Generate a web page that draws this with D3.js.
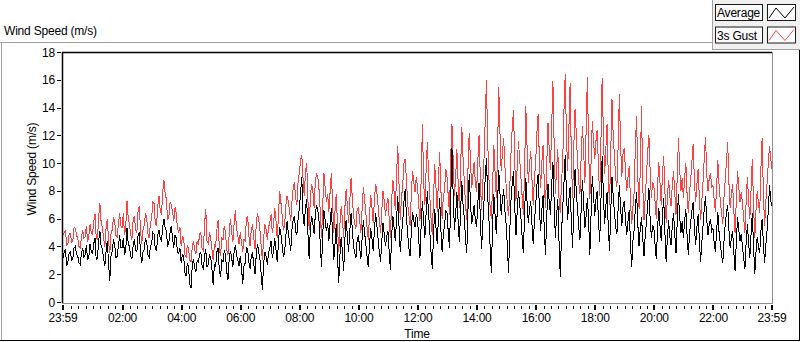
<!DOCTYPE html>
<html>
<head>
<meta charset="utf-8">
<script src="https://cdn.jsdelivr.net/npm/d3@7"></script>
<style>
  body { margin: 0; background: #fff; }
  svg text { font-family: "Liberation Sans", Arial, sans-serif; font-size: 12px; letter-spacing: -0.2px; fill: #000; }
</style>
</head>
<body>
<div id="chart"></div>
<script>
// wind speed samples, evenly spaced from 23:59 to 23:59 next day (m/s), 24 per hour
const average = [
  3.2, 3.6, 3.8, 2.6, 2.9, 3.5, 3.6, 3.0, 3.1, 3.9, 4.0, 3.4, 3.3, 2.8, 2.7, 3.5, 3.9, 3.2, 3.4, 4.1, 3.0, 3.3, 4.2, 3.6,
  3.5, 4.2, 4.6, 3.0, 3.2, 4.4, 5.1, 4.0, 3.8, 3.1, 2.6, 3.7, 4.4, 2.8, 1.5, 3.3, 3.7, 4.5, 4.1, 3.2, 3.3, 4.0, 4.8, 3.9,
  3.9, 4.6, 3.4, 3.8, 5.3, 4.2, 4.0, 3.3, 3.1, 4.1, 4.5, 3.7, 3.6, 4.8, 5.0, 3.5, 2.8, 3.6, 3.8, 4.6, 4.3, 3.4, 3.2, 4.0,
  4.2, 5.0, 4.9, 3.8, 3.7, 4.8, 5.2, 4.6, 4.4, 5.4, 6.0, 5.3, 5.1, 4.0, 4.3, 5.0, 5.5, 4.6, 3.9, 4.8, 4.6, 3.6, 3.5, 3.9,
  2.8, 3.4, 3.3, 2.1, 1.9, 2.8, 2.5, 1.3, 1.0, 2.6, 3.1, 2.4, 2.2, 3.0, 2.9, 3.5, 3.6, 2.6, 2.4, 3.3, 3.8, 2.5, 2.7, 3.4,
  3.2, 2.4, 1.2, 2.7, 2.6, 3.6, 3.9, 2.3, 1.8, 3.0, 2.9, 3.7, 3.4, 2.2, 1.6, 3.1, 3.7, 3.2, 2.5, 3.6, 4.1, 3.4, 3.0, 2.6,
  3.3, 2.5, 1.3, 2.6, 2.8, 3.9, 3.8, 2.9, 2.4, 3.3, 3.5, 2.7, 2.0, 3.4, 4.2, 3.6, 3.1, 2.0, 0.9, 2.8, 3.6, 3.3, 2.7, 3.5,
  3.9, 4.4, 3.2, 3.6, 4.6, 3.8, 2.9, 4.2, 5.4, 4.9, 4.1, 3.3, 3.5, 4.7, 5.8, 5.0, 4.4, 3.7, 5.2, 5.9, 6.2, 5.1, 4.8, 6.0,
  6.7, 7.9, 9.0, 6.3, 5.5, 6.8, 7.4, 4.9, 3.1, 5.4, 6.2, 5.6, 4.9, 6.3, 7.0, 6.6, 5.8, 4.2, 2.5, 4.8, 6.6, 5.9, 5.1, 5.7,
  4.4, 5.6, 6.8, 4.9, 3.0, 4.2, 5.6, 3.3, 1.4, 3.4, 4.7, 3.6, 2.2, 4.5, 5.9, 4.8, 3.6, 5.1, 6.4, 5.3, 4.1, 3.5, 3.2, 4.5,
  4.8, 3.9, 3.1, 4.6, 5.9, 5.0, 4.2, 3.3, 2.5, 4.1, 5.3, 4.6, 3.7, 5.2, 6.4, 5.5, 4.5, 3.6, 2.9, 4.4, 5.7, 4.9, 4.0, 4.7,
  5.1, 3.6, 2.3, 4.8, 6.2, 5.3, 4.4, 6.0, 7.6, 5.4, 3.6, 4.9, 5.8, 7.2, 8.1, 6.2, 4.9, 3.9, 3.3, 5.1, 6.5, 5.8, 5.4, 6.3,
  6.0, 4.5, 3.2, 5.6, 7.3, 5.8, 4.6, 6.4, 8.0, 6.3, 5.1, 3.6, 2.4, 4.8, 6.7, 5.4, 4.2, 6.0, 7.5, 5.2, 3.6, 4.9, 5.5, 6.6,
  6.4, 5.0, 3.9, 7.4, 11.1, 7.6, 5.2, 6.3, 7.9, 5.8, 4.3, 6.5, 8.7, 7.0, 6.1, 4.6, 3.5, 6.6, 9.2, 7.3, 5.6, 6.2, 7.0, 5.9,
  5.4, 7.1, 8.6, 6.2, 3.8, 5.5, 7.2, 8.9, 10.4, 7.7, 6.0, 4.0, 2.1, 5.5, 7.8, 6.3, 4.9, 7.0, 9.5, 7.8, 6.3, 7.4, 8.1, 6.6,
  5.6, 4.0, 2.1, 5.2, 7.4, 8.6, 9.4, 6.9, 4.8, 6.5, 8.0, 7.0, 6.1, 4.7, 3.5, 6.4, 8.9, 7.2, 5.7, 6.6, 7.3, 5.6, 4.2, 5.8,
  6.9, 8.4, 9.2, 6.8, 5.1, 6.6, 7.7, 5.2, 3.4, 6.1, 8.5, 7.2, 6.3, 8.4, 10.1, 7.3, 4.6, 6.2, 7.4, 4.3, 1.8, 5.0, 6.8, 8.6,
  10.6, 7.8, 5.9, 7.4, 8.3, 5.8, 3.9, 7.1, 9.6, 8.0, 6.7, 5.4, 4.5, 6.8, 8.8, 7.0, 5.3, 6.2, 7.5, 5.9, 3.4, 6.3, 9.1, 7.7,
  6.2, 7.4, 8.0, 5.9, 4.3, 7.2, 10.5, 7.8, 5.6, 6.9, 7.9, 5.3, 3.7, 6.5, 9.0, 7.6, 6.4, 5.4, 4.9, 6.7, 8.4, 6.8, 5.5, 6.9,
  7.3, 5.9, 4.8, 5.8, 6.6, 4.3, 2.5, 4.4, 5.2, 6.8, 7.9, 5.6, 4.0, 5.3, 6.1, 4.6, 3.3, 4.8, 5.7, 7.0, 8.2, 6.0, 4.6, 5.5,
  5.4, 4.1, 3.1, 5.2, 6.8, 5.5, 4.4, 6.2, 7.5, 5.0, 2.9, 4.6, 5.9, 4.7, 4.1, 5.5, 6.4, 4.9, 3.5, 5.8, 7.8, 6.1, 5.0, 5.8,
  4.6, 5.8, 6.7, 4.8, 3.4, 4.9, 5.8, 6.6, 7.2, 5.3, 4.1, 5.4, 6.3, 4.4, 2.9, 4.3, 5.5, 6.8, 7.6, 5.9, 4.8, 5.6, 6.0, 5.1,
  5.3, 4.3, 3.6, 5.1, 6.5, 5.0, 4.2, 3.4, 2.8, 4.4, 5.6, 6.4, 7.0, 5.2, 3.9, 4.6, 5.1, 3.6, 2.2, 4.3, 6.1, 5.2, 4.4, 4.9,
  4.0, 3.1, 2.4, 4.3, 5.6, 4.2, 3.2, 4.9, 6.4, 4.0, 2.0, 3.6, 4.7, 4.0, 3.5, 5.1, 6.0, 4.2, 2.8, 4.1, 5.2, 6.6, 8.4, 7.3,
  6.9
];
const gust = [
  4.8, 5.0, 5.1, 4.1, 4.2, 4.9, 4.9, 4.3, 4.4, 5.4, 5.3, 4.8, 4.6, 4.0, 3.9, 4.7, 5.2, 4.6, 4.7, 5.5, 4.3, 4.8, 5.6, 5.0,
  4.9, 5.8, 6.3, 4.6, 4.5, 6.2, 7.1, 5.7, 5.4, 4.6, 4.0, 5.3, 6.0, 4.4, 3.5, 4.9, 5.2, 6.1, 5.8, 4.8, 4.7, 5.6, 6.4, 5.5,
  5.3, 6.4, 4.8, 5.5, 7.3, 6.0, 5.6, 4.8, 4.5, 5.9, 6.2, 5.2, 5.0, 6.6, 6.9, 5.1, 4.2, 5.2, 5.5, 6.4, 6.1, 4.9, 4.6, 5.7,
  6.0, 7.2, 7.1, 5.6, 5.5, 6.9, 7.6, 6.6, 6.3, 7.9, 8.8, 7.8, 7.4, 5.9, 6.1, 7.2, 7.0, 6.5, 5.8, 6.8, 6.4, 5.3, 5.0, 5.4,
  4.0, 4.7, 4.6, 3.4, 3.2, 4.1, 3.8, 3.0, 2.9, 3.9, 4.4, 3.7, 3.5, 4.4, 4.1, 4.9, 5.0, 3.8, 3.7, 5.6, 6.7, 4.4, 4.2, 5.0,
  4.6, 3.8, 3.0, 4.1, 4.0, 5.2, 5.9, 3.9, 3.3, 4.6, 4.5, 5.5, 5.0, 3.8, 3.4, 4.9, 6.0, 5.1, 4.3, 5.6, 6.6, 5.3, 4.8, 4.2,
  5.0, 4.3, 3.6, 4.5, 4.4, 6.0, 6.2, 4.8, 4.0, 5.3, 5.5, 4.6, 3.8, 5.6, 6.4, 5.9, 5.2, 4.0, 3.0, 4.6, 5.6, 5.2, 4.5, 5.4,
  5.7, 6.3, 5.0, 5.5, 6.8, 5.9, 4.6, 6.1, 8.0, 7.2, 6.3, 5.2, 5.4, 6.9, 7.6, 7.3, 6.6, 5.8, 7.2, 8.2, 8.6, 7.5, 7.0, 8.7,
  9.3, 10.2, 10.6, 8.9, 7.6, 9.4, 10.0, 7.3, 5.2, 7.6, 8.5, 8.0, 6.8, 8.7, 9.2, 9.0, 8.1, 6.5, 4.6, 6.9, 9.3, 8.2, 7.2, 7.8,
  6.5, 7.9, 9.3, 7.2, 5.0, 6.6, 7.8, 5.5, 3.6, 5.6, 6.9, 6.0, 4.6, 6.8, 8.1, 7.0, 5.7, 7.3, 8.9, 7.6, 6.2, 5.6, 5.3, 6.7,
  6.8, 5.9, 5.0, 6.7, 8.3, 7.4, 6.4, 5.4, 4.5, 6.2, 7.7, 6.8, 5.7, 7.4, 8.5, 7.9, 6.9, 5.8, 5.0, 6.6, 8.0, 7.3, 6.2, 7.0,
  7.5, 6.0, 4.6, 7.3, 8.8, 7.9, 6.6, 9.2, 11.2, 8.4, 5.9, 7.5, 8.4, 10.0, 10.3, 8.8, 7.1, 6.3, 5.5, 7.8, 9.4, 8.6, 7.9, 9.0,
  8.3, 7.0, 5.8, 8.9, 12.8, 8.6, 7.0, 9.5, 11.5, 9.2, 7.6, 6.0, 4.8, 7.5, 9.9, 8.3, 6.5, 8.8, 10.8, 8.1, 6.0, 7.6, 8.1, 9.6,
  9.0, 7.6, 6.3, 10.5, 12.8, 10.2, 7.6, 9.0, 11.0, 8.7, 6.8, 9.6, 12.6, 10.4, 8.7, 7.0, 5.9, 9.5, 12.2, 10.3, 8.2, 9.1, 10.1, 8.6,
  7.9, 10.1, 12.0, 9.1, 6.6, 8.5, 10.2, 13.0, 16.0, 11.6, 9.0, 6.8, 6.0, 8.4, 11.3, 9.4, 7.5, 10.6, 15.5, 12.2, 9.4, 10.7, 11.8, 9.8,
  8.4, 7.0, 6.2, 8.3, 10.8, 12.6, 13.8, 10.1, 7.3, 9.8, 11.6, 10.3, 9.0, 7.6, 6.3, 9.5, 14.1, 11.2, 8.6, 9.9, 10.9, 8.8, 7.0, 8.9,
  10.0, 12.2, 13.5, 10.3, 8.2, 10.0, 11.3, 8.6, 6.8, 9.8, 12.9, 11.0, 9.5, 12.6, 15.9, 11.4, 7.8, 9.6, 11.0, 7.4, 6.4, 8.6, 10.2, 13.8,
  16.4, 12.0, 9.4, 12.5, 15.8, 10.4, 7.5, 11.2, 13.9, 12.1, 10.2, 8.6, 7.8, 10.6, 12.7, 10.8, 8.6, 12.4, 16.2, 11.2, 7.4, 10.0, 13.0, 11.6,
  10.3, 11.6, 12.4, 9.7, 7.6, 11.4, 16.1, 12.2, 9.2, 11.0, 12.8, 9.0, 7.0, 10.8, 14.6, 12.0, 10.5, 8.9, 8.3, 11.2, 15.0, 11.3, 9.0, 10.7,
  11.1, 9.3, 8.0, 9.0, 9.8, 7.4, 5.6, 6.8, 7.9, 11.2, 13.4, 9.0, 6.7, 9.6, 14.1, 8.4, 5.9, 7.5, 9.0, 10.8, 12.0, 9.4, 7.5, 8.6,
  8.4, 7.2, 6.0, 8.3, 10.1, 8.6, 7.0, 9.2, 10.5, 8.0, 5.7, 7.5, 8.8, 7.6, 6.9, 8.4, 9.4, 7.9, 6.3, 9.0, 11.8, 9.6, 8.0, 8.9,
  7.5, 8.9, 10.0, 7.8, 6.4, 7.9, 8.9, 10.2, 11.4, 8.6, 7.2, 8.5, 9.6, 7.4, 5.9, 7.3, 8.7, 10.4, 11.9, 9.2, 8.0, 8.9, 9.3, 8.3,
  8.4, 7.4, 6.5, 8.3, 10.2, 8.4, 7.3, 6.4, 5.6, 7.5, 8.8, 10.1, 11.5, 8.6, 6.8, 7.8, 8.5, 6.6, 5.0, 7.3, 9.4, 8.3, 7.2, 7.9,
  7.1, 6.0, 5.0, 7.2, 9.0, 7.3, 6.0, 8.1, 10.3, 7.0, 4.6, 6.6, 8.0, 7.1, 6.4, 9.6, 11.8, 7.8, 5.5, 7.2, 8.6, 10.0, 11.2, 10.3,
  9.6
];
const yTicks = [0, 2, 4, 6, 8, 10, 12, 14, 16, 18];
const xTickHours = [2, 4, 6, 8, 10, 12, 14, 16, 18, 20, 22];
const legendNames = ['Average', '3s Gust'];
const seriesColors = ['#000000', '#ff4040'];

const width = 800, height = 342;
const plot = { left: 62, top: 52, right: 772, bottom: 303 };

const start = new Date(2000, 0, 1, 23, 59);
const end = new Date(2000, 0, 2, 23, 59);

// samples are evenly spread over the day
function timeOf(i, n) {
    return new Date(+start + (end - start) * i / (n - 1));
}

let svg = d3.select('#chart')
    .append('svg')
    .attr('width', width)
    .attr('height', height);

let x = d3.scaleTime().domain([start, end]).range([plot.left + 1, plot.right]);
let y = d3.scaleLinear().domain([0, 18]).range([plot.bottom - 1, plot.top]);

// outer panel frame (LabVIEW style)
svg.append('line').attr('x1', 0).attr('x2', 712).attr('y1', 42.5).attr('y2', 42.5).attr('stroke', '#a0a0a0');
svg.append('line').attr('x1', 1.5).attr('x2', 1.5).attr('y1', 42).attr('y2', 341).attr('stroke', '#a0a0a0');
svg.append('line').attr('x1', 0).attr('x2', 800).attr('y1', 340.5).attr('y2', 340.5).attr('stroke', '#000');
svg.append('line').attr('x1', 799.5).attr('x2', 799.5).attr('y1', 49).attr('y2', 341).attr('stroke', '#000');

// legend panel
let legend = svg.append('g').attr('class', 'legend');
legend.append('rect')
    .attr('x', 712.5).attr('y', -1).attr('width', 90).attr('height', 50.5)
    .attr('fill', '#f0f0f0').attr('stroke', '#a0a0a0');

let rows = legend.selectAll('g.row')
    .data(legendNames)
    .enter()
    .append('g')
    .attr('class', 'row')
    .attr('transform', function(d, i) { return 'translate(0,' + (i * 22.5) + ')'; });

rows.append('rect')
    .attr('x', 715.5).attr('y', 4.5).attr('width', 47).attr('height', 16)
    .attr('fill', '#fafafa').attr('stroke', '#1a1a1a');
rows.append('text')
    .attr('x', 717).attr('y', 17)
    .text(function(d) { return d; });
rows.append('rect')
    .attr('x', 767.5).attr('y', 4.5).attr('width', 28).attr('height', 16)
    .attr('fill', '#fff').attr('stroke', '#1a1a1a');
rows.append('path')
    .attr('d', 'M769,18L776,8L785,18L794,7')
    .attr('fill', 'none')
    .attr('stroke', function(d, i) { return seriesColors[i]; })
    .attr('stroke-width', 1);

// title
svg.append('text').attr('x', 4).attr('y', 35).text('Wind Speed (m/s)');

// plot area
svg.append('rect')
    .attr('x', plot.left).attr('y', plot.top)
    .attr('width', plot.right - plot.left).attr('height', plot.bottom - plot.top)
    .attr('fill', '#fff');

function drawSeries(values, color, cls) {
    let lineGen = d3.line()
        .x(function(d, i) { return x(timeOf(i, values.length)); })
        .y(function(d) { return y(d); });

    svg.append('path')
        .datum(values)
        .attr('class', cls)
        .attr('d', lineGen)
        .attr('fill', 'none')
        .attr('stroke', color)
        .attr('stroke-width', 1)
        .attr('shape-rendering', 'crispEdges');
}
drawSeries(gust, seriesColors[1], 'gust');
drawSeries(average, seriesColors[0], 'average');

// plot border: dark top/left, grey bottom/right
svg.append('line').attr('x1', plot.left).attr('x2', plot.right).attr('y1', plot.top + 0.5).attr('y2', plot.top + 0.5).attr('stroke', '#000').attr('stroke-width', 1.5);
svg.append('line').attr('x1', plot.left + 0.5).attr('x2', plot.left + 0.5).attr('y1', plot.top).attr('y2', plot.bottom).attr('stroke', '#000').attr('stroke-width', 1.5);
svg.append('line').attr('x1', plot.right + 0.5).attr('x2', plot.right + 0.5).attr('y1', plot.top).attr('y2', plot.bottom + 1).attr('stroke', '#909090');
svg.append('line').attr('x1', plot.left).attr('x2', plot.right + 1).attr('y1', plot.bottom + 0.5).attr('y2', plot.bottom + 0.5).attr('stroke', '#909090');

// y axis
let yAxis = svg.append('g').attr('class', 'y-axis');
yAxis.selectAll('line')
    .data(yTicks)
    .enter()
    .append('line')
    .attr('x1', 57).attr('x2', 61)
    .attr('y1', function(d) { return Math.round(y(d)) + 0.5; })
    .attr('y2', function(d) { return Math.round(y(d)) + 0.5; })
    .attr('stroke', '#000');
yAxis.selectAll('text')
    .data(yTicks)
    .enter()
    .append('text')
    .attr('x', 55)
    .attr('y', function(d) { return y(d) + 4.5; })
    .attr('text-anchor', 'end')
    .text(function(d) { return d; });

svg.append('text')
    .attr('transform', 'translate(36,169) rotate(-90)')
    .attr('text-anchor', 'middle')
    .text('Wind Speed (m/s)');

// x axis
let majorTicks = [start].concat(xTickHours.map(function(h) { return new Date(2000, 0, 2, h, 0); }), [end]);
let minorTicks = d3.timeMinute.every(15).range(start, end).filter(function(t) {
    return !(t.getMinutes() === 0 && t.getHours() % 2 === 0);
});

let xAxis = svg.append('g').attr('class', 'x-axis');
xAxis.selectAll('line.minor')
    .data(minorTicks)
    .enter()
    .append('line')
    .attr('class', 'minor')
    .attr('x1', function(d) { return Math.round(x(d)) + 0.5; })
    .attr('x2', function(d) { return Math.round(x(d)) + 0.5; })
    .attr('y1', 306).attr('y2', 309)
    .attr('stroke', '#000');
xAxis.selectAll('line.major')
    .data(majorTicks)
    .enter()
    .append('line')
    .attr('class', 'major')
    .attr('x1', function(d) { return Math.round(x(d)); })
    .attr('x2', function(d) { return Math.round(x(d)); })
    .attr('y1', 305).attr('y2', 310)
    .attr('stroke', '#000')
    .attr('stroke-width', 2);

let fmt = d3.timeFormat('%H:%M');
xAxis.selectAll('text')
    .data(majorTicks)
    .enter()
    .append('text')
    .attr('x', function(d) { return x(d); })
    .attr('y', 322)
    .attr('text-anchor', 'middle')
    .text(function(d) { return fmt(d); });

svg.append('text')
    .attr('x', (plot.left + plot.right) / 2)
    .attr('y', 338)
    .attr('text-anchor', 'middle')
    .text('Time');
</script>
</body>
</html>
